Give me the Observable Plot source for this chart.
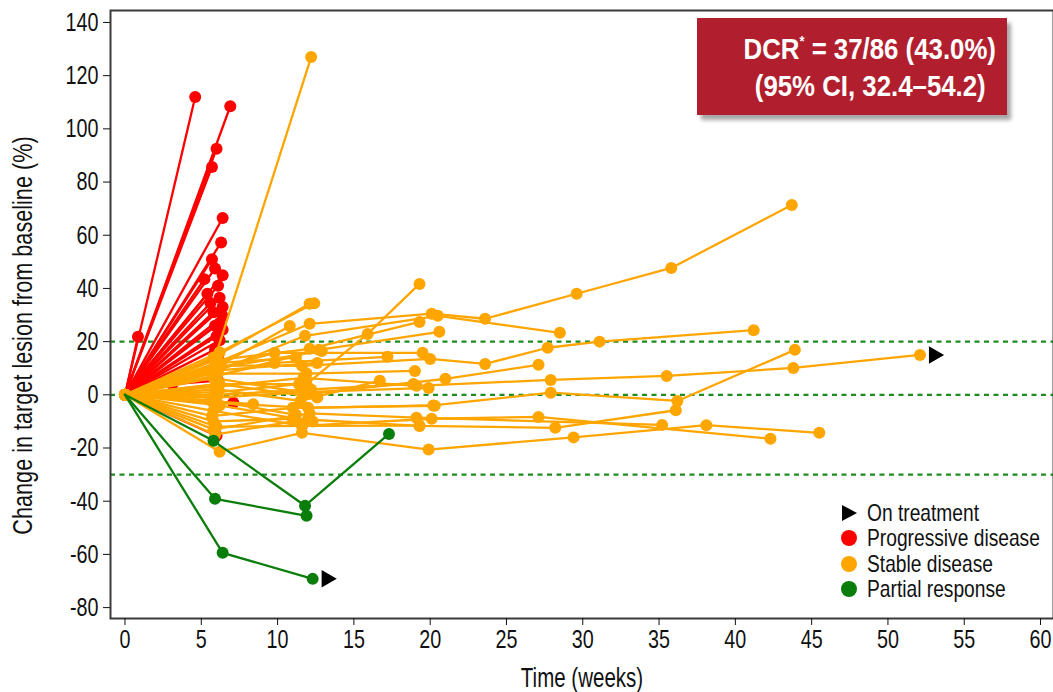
<!DOCTYPE html>
<html>
<head>
<meta charset="utf-8">
<script src="https://cdn.jsdelivr.net/npm/d3@7"></script>
<script src="https://cdn.jsdelivr.net/npm/@observablehq/plot@0.6"></script>
<style>
  html, body { margin: 0; padding: 0; background: #fff; }
  #wrap { position: relative; width: 1053px; height: 692px; font-family: "Liberation Sans", Arial, sans-serif; }
  #dcr { position: absolute; left: 697px; top: 18px; width: 310px; height: 97px; background: #b11f2e;
         box-shadow: 4px 5px 4px rgba(0,0,0,0.35); color: #fff; font-weight: bold; font-size: 30px;
         box-sizing: border-box; padding-top: 12px; line-height: 37px; }
  #dcr .ln { position: relative; left: -127px; width: 600px; text-align: center; white-space: nowrap; }
  #dcr .ln span { display: inline-block; transform: scaleX(0.86); transform-origin: center; }
  #dcr sup { font-size: 15px; vertical-align: 13px; line-height: 0; }
  #legend { position: absolute; left: 838px; top: 500px; font-size: 24px; color: #111; }
  #legend .item { height: 25.5px; display: flex; align-items: center; white-space: nowrap; }
  #legend svg { width: 22px; height: 22px; margin-right: 7px; flex: none; }
  #legend span { display: inline-block; transform: scaleX(0.8); transform-origin: left center; }
</style>
</head>
<body>
<div id="wrap">
  <div id="chart"></div>
  <div id="dcr"><div class="ln"><span>DCR<sup>*</sup> = 37/86 (43.0%)</span></div><div class="ln"><span>(95% CI, 32.4–54.2)</span></div></div>
  <div id="legend"></div>
</div>
<script>
// ---- data: each patient is a list of [week, % change from baseline] ----
const progressive = [
  [[0,0],[4.6,112]],
  [[0,0],[6.9,108.5]],
  [[0,0],[6.0,92.5]],
  [[0,0],[5.7,85.7]],
  [[0,0],[6.4,66.5]],
  [[0,0],[6.3,57.3]],
  [[0,0],[5.7,51]],
  [[0,0],[5.9,47.5]],
  [[0,0],[6.4,45]],
  [[0,0],[5.2,43.5]],
  [[0,0],[6.1,41]],
  [[0,0],[5.4,38]],
  [[0,0],[6.2,36.5]],
  [[0,0],[5.6,34.5]],
  [[0,0],[6.4,33]],
  [[0,0],[5.8,31]],
  [[0,0],[6.4,29.5]],
  [[0,0],[6.2,27]],
  [[0,0],[5.9,26]],
  [[0,0],[6.4,24.5]],
  [[0,0],[6.0,22]],
  [[0,0],[6.2,20.5]],
  [[0,0],[5.9,17]],
  [[0,0],[6.1,14]],
  [[0,0],[0.85,21.8]],
  [[0,0],[3.1,4],[6.1,5.3]],
  [[0,0],[7.1,-3]],
  [[0,0],[6.0,-15.4]]
];
const stable = [
  [[0,0],[5.9,14],[12.2,127]],
  [[0,0],[6.0,12],[12.1,26.7],[20.1,30.5],[23.6,28.6],[29.6,38],[35.8,47.7],[43.7,71.4]],
  [[0,0],[6.1,9],[11.8,22.2],[20.5,29.7],[28.5,23.3]],
  [[0,0],[6.0,4],[11.9,4],[15.9,22.9],[19.3,41.7]],
  [[0,0],[5.8,14],[12.1,34.2]],
  [[0,0],[6.2,16],[12.4,34.4]],
  [[0,0],[5.9,10],[10.8,25.9]],
  [[0,0],[5.9,13],[12.1,17.3],[19.3,27.4]],
  [[0,0],[6.0,7],[12.7,16.9],[20.6,23.7]],
  [[0,0],[5.9,11],[11.6,10.9],[20,13.5],[23.6,11.6],[27.7,17.7],[31.1,20],[41.2,24.3]],
  [[0,0],[5.8,6.4],[12.1,0.4],[21,6],[27.1,11.3]],
  [[0,0],[5.9,3],[11.7,6.4],[19.1,3.4],[27.9,5.6],[35.5,7.1],[43.8,10.1],[52.1,15]],
  [[0,0],[5.8,-3],[12,-4.9],[20.2,-4],[27.9,0.8],[36.2,-2.3],[43.9,16.9]],
  [[0,0],[5.8,-10],[11,-9],[19.3,-11.7],[28.2,-12.4],[36.1,-5.8]],
  [[0,0],[5.8,-6],[11.6,-11.7],[20.1,-9],[27.1,-8.3],[42.3,-16.5]],
  [[0,0],[6.2,-21.4],[11.6,-14.3],[19.9,-20.6],[29.4,-16],[38.1,-11.4],[45.5,-14.3]],
  [[0,0],[5.8,-13],[12.1,-7],[19.1,-8.6],[35.2,-11.3]],
  [[0,0],[9.8,15.8],[19.5,15.8]],
  [[0,0],[9.8,12],[17.2,14.3]],
  [[0,0],[5.7,8],[11.9,8],[19,9]],
  [[0,0],[6.1,2],[11.5,-2.3],[16.7,5.3]],
  [[0,0],[5.9,0],[12.2,2],[18.9,4.1]],
  [[0,0],[6.0,-1],[11.8,1],[19.9,2.6]],
  [[0,0],[8.4,-3.5]],
  [[0,0],[5.7,-8],[11,-4.9],[20.3,-4.1]],
  [[0,0],[6.0,-12],[11.6,-11.7],[19.3,-11.6]],
  [[0,0],[5.9,-15],[12,-9]],
  [[0,0],[6.1,1],[11.4,4]],
  [[0,0],[6.3,12],[11.2,14]],
  [[0,0],[5.6,9],[12.6,12]],
  [[0,0],[6.2,4],[12.6,-1]],
  [[0,0],[5.6,-2],[11.2,-7.5]],
  [[0,0],[6.0,10],[12.9,16.5]],
  [[0,0],[6.2,-4],[12.3,-10]]
];
const partial = [
  [[0,0],[5.8,-17.3],[11.8,-41.7],[17.3,-14.7]],
  [[0,0],[5.9,-39.1],[11.9,-45.5]],
  [[0,0],[6.4,-59.4],[12.3,-69.2]]
];
// patients still on treatment: [group, index]
const onTreatment = [["stable", 11], ["partial", 2]];
const refLines = [20, 0, -30];
const xTicks = [0,5,10,15,20,25,30,35,40,45,50,55,60];
const yTicks = [-80,-60,-40,-20,0,20,40,60,80,100,120,140];
const xTitle = "Time (weeks)";
const yTitle = "Change in target lesion from baseline (%)";
const legendLabels = ["On treatment", "Progressive disease", "Stable disease", "Partial response"];

const colors = {progressive: "#ff0000", stable: "#ffa500", partial: "#0a7d0a"};
const groups = {progressive, stable, partial};

function rowsOf(name) {
  const out = [];
  groups[name].forEach((pts, i) => pts.forEach(([w, c]) => out.push({id: name + i, group: name, week: w, change: c})));
  return out;
}
const rows = {progressive: rowsOf("progressive"), stable: rowsOf("stable"), partial: rowsOf("partial")};
const lastPts = onTreatment.map(([g, i]) => { const p = groups[g][i][groups[g][i].length - 1]; return {week: p[0], change: p[1]}; });

const lineMarks = name => Plot.line(rows[name], {x: "week", y: "change", z: "id", stroke: colors[name], strokeWidth: 2.3, curve: "linear"});
const dotMarks = (name, withOrigin) => Plot.dot(rows[name].filter(d => withOrigin || d.week > 0), {x: "week", y: "change", r: 6, fill: colors[name]});

const chart = Plot.plot({
  width: 1053, height: 692,
  marginLeft: 110, marginRight: 0, marginTop: 10, marginBottom: 74,
  style: {fontFamily: '"Liberation Sans", Arial, sans-serif', fontSize: "26px", color: "#111", background: "#fff"},
  x: {domain: [-0.95, 60.85]},
  y: {domain: [-84.1, 144.5]},
  marks: [
    Plot.ruleY(refLines, {stroke: "#1e8c1e", strokeWidth: 2.2, strokeDasharray: "5,4.5"}),
    lineMarks("progressive"), dotMarks("progressive", false),
    lineMarks("stable"), dotMarks("stable", true),
    lineMarks("partial"), dotMarks("partial", false),
    Plot.dot(lastPts, {x: "week", y: "change", symbol: "triangle", rotate: 90, r: 6.5, fill: "#000", dx: 14}),
    Plot.frame({stroke: "#3a3a3a", strokeWidth: 2}),
    Plot.axisX({ticks: xTicks, tickSize: 7, tickPadding: 4, fontSize: 26, label: null, tickFormat: d => String(d)}),
    Plot.axisY({ticks: yTicks, tickSize: 7, tickPadding: 5, fontSize: 26, label: null, tickFormat: d => String(d)}),
    Plot.text([xTitle], {frameAnchor: "bottom", dy: 60, textAnchor: "middle", lineAnchor: "middle", fontSize: 27, fill: "#111"}),
    Plot.text([yTitle], {frameAnchor: "left", dx: -88, dy: 21, rotate: -90, textAnchor: "middle", lineAnchor: "middle", fontSize: 28.5, fill: "#111"})
  ]
});
document.getElementById("chart").appendChild(chart);

// condense all svg text horizontally (narrow typeface look)
const SX = 0.76;
chart.querySelectorAll("text").forEach(t => {
  const tr = t.getAttribute("transform") || "";
  const x = t.getAttribute("x");
  if (x && !isNaN(+x)) t.setAttribute("x", (+x) / SX);
  t.setAttribute("transform", tr + ` scale(${SX},1)`);
});

// legend
const lg = document.getElementById("legend");
const syms = [
  '<svg viewBox="0 0 22 22"><path d="M4 3 L19 11 L4 19 Z" fill="#000"/></svg>',
  '<svg viewBox="0 0 22 22"><circle cx="11" cy="11" r="8" fill="' + colors.progressive + '"/></svg>',
  '<svg viewBox="0 0 22 22"><circle cx="11" cy="11" r="8" fill="' + colors.stable + '"/></svg>',
  '<svg viewBox="0 0 22 22"><circle cx="11" cy="11" r="8" fill="' + colors.partial + '"/></svg>'
];
legendLabels.forEach((t, i) => {
  const d = document.createElement("div");
  d.className = "item";
  d.innerHTML = syms[i] + "<span>" + t + "</span>";
  lg.appendChild(d);
});
</script>
</body>
</html>
